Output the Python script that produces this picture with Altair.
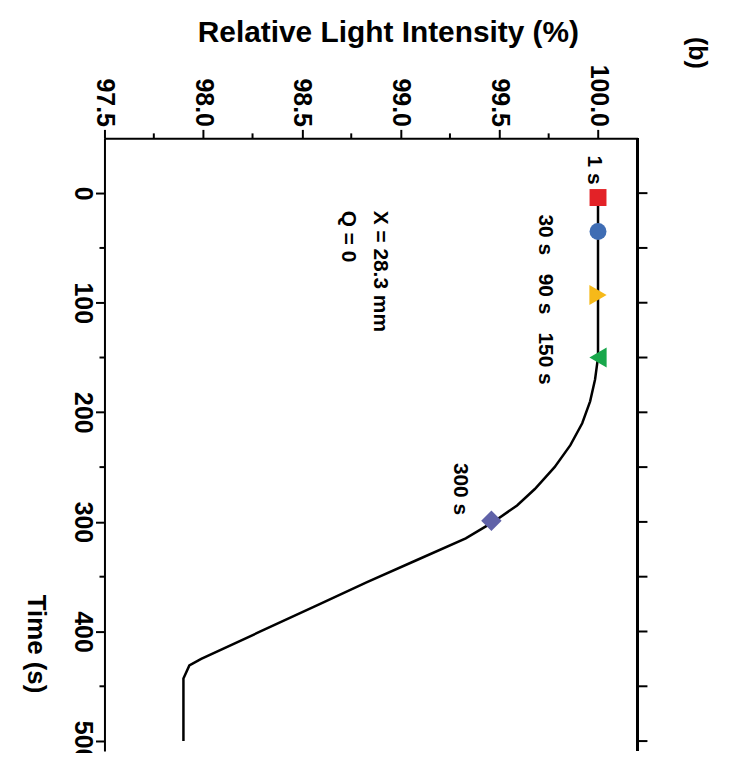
import altair as alt
import pandas as pd

# ---- data ----
time_s = [0, 150, 170, 190, 210, 230, 250, 270, 285, 300, 315, 335, 355, 375, 400, 425, 431, 443, 500]
intensity = [100.0, 100.0, 99.985, 99.96, 99.92, 99.86, 99.78, 99.68, 99.59, 99.47, 99.33,
             99.08, 98.83, 98.59, 98.29, 97.99, 97.93, 97.90, 97.90]

marker_time = [4, 35, 93, 150, 299]
marker_int = [100.0, 100.0, 100.0, 100.0, 99.46]
marker_shape = ["square", "circle", "triangle-right", "triangle-left", "diamond"]
marker_color = ["#e32227", "#3f6db4", "#f6b919", "#18a74b", "#6062a8"]

marker_label = ["1 s", "30 s", "90 s", "150 s", "300 s"]
label_time = [-21, 38, 92, 151, 270]
label_int = [99.98, 99.73, 99.73, 99.73, 99.30]

note_text = ["X = 28.3 mm", "Q = 0"]
note_int = [98.895, 98.734]
note_time = [16, 16]

panel_text = ["(b)"]
panel_int = [100.5]
panel_time = [-128]

x_ticks = [97.5, 98.0, 98.5, 99.0, 99.5, 100.0]
x_minor = [97.75, 98.25, 98.75, 99.25, 99.75]
y_ticks = [0, 100, 200, 300, 400, 500]
y_minor = [50, 150, 250, 350, 450]
right_ticks = [0, 50, 100, 150, 200, 250, 300, 350, 400, 450, 500]

# ---- styling ----
SHAPE_SIZE = {"square": 290, "circle": 290, "triangle-right": 400, "triangle-left": 400, "diamond": 420}
X_DOMAIN = [97.5, 100.2]
Y_DOMAIN = [-50, 509]
W, H = 536, 616
FONT = "Liberation Sans"

line_df = pd.DataFrame({"t": time_s, "v": intensity})
mk_df = pd.DataFrame({"t": marker_time, "v": marker_int, "shape": marker_shape, "color": marker_color})
mk_df["sz"] = mk_df["shape"].map(SHAPE_SIZE)
lab_df = pd.DataFrame({"t": label_time, "v": label_int, "txt": marker_label})
note_df = pd.DataFrame({"t": note_time, "v": note_int, "txt": note_text})
panel_df = pd.DataFrame({"t": panel_time, "v": panel_int, "txt": panel_text})
xminor_df = pd.DataFrame({"v": x_minor})
yminor_df = pd.DataFrame({"t": y_minor})
right_df = pd.DataFrame({"t": right_ticks})

xs = alt.Scale(domain=X_DOMAIN, nice=False, zero=False)
ys = alt.Scale(domain=Y_DOMAIN, nice=False, zero=False, reverse=True)

x_axis = alt.Axis(
    orient="top", values=x_ticks, format=".1f", labelAngle=90, labelAlign="right",
    labelBaseline="middle", labelFlush=False, labelOverlap=False, tickSize=9, labelPadding=3,
    grid=False, title="Relative Light Intensity (%)", titleFontSize=30, titleFontWeight="bold",
    titleFont=FONT, titleX=285, titleY=-97, titleAlign="center", titleBaseline="alphabetic",
)
y_axis = alt.Axis(
    orient="left", values=y_ticks, format="d", labelAngle=90, labelAlign="center",
    labelBaseline="top", labelFlush=False, labelOverlap=False, tickSize=9, labelPadding=1,
    grid=False, title="Time (s)", titleFontSize=26, titleFontWeight="bold", titleFont=FONT,
    titleAngle=90, titleX=-77, titleY=508, titleAlign="center", titleBaseline="alphabetic",
)

line = alt.Chart(line_df).mark_line(color="black", strokeWidth=2.5).encode(
    x=alt.X("v:Q", scale=xs, axis=x_axis),
    y=alt.Y("t:Q", scale=ys, axis=y_axis),
    order=alt.Order("t:Q"),
)

markers = alt.Chart(mk_df).mark_point(filled=True, opacity=1).encode(
    x=alt.X("v:Q", scale=xs),
    y=alt.Y("t:Q", scale=ys),
    shape=alt.Shape("shape:N", scale=None),
    color=alt.Color("color:N", scale=None),
    size=alt.Size("sz:Q", scale=None),
)

labels = alt.Chart(lab_df).mark_text(
    angle=90, align="center", baseline="middle", font=FONT, fontWeight="bold", fontSize=21, color="black"
).encode(x=alt.X("v:Q", scale=xs), y=alt.Y("t:Q", scale=ys), text="txt:N")

notes = alt.Chart(note_df).mark_text(
    angle=90, align="left", baseline="middle", font=FONT, fontWeight="bold", fontSize=21, color="black"
).encode(x=alt.X("v:Q", scale=xs), y=alt.Y("t:Q", scale=ys), text="txt:N")

panel = alt.Chart(panel_df).mark_text(
    angle=90, align="center", baseline="middle", font=FONT, fontWeight="bold", fontSize=25, color="black"
).encode(x=alt.X("v:Q", scale=xs), y=alt.Y("t:Q", scale=ys), text="txt:N")

x_minor_ticks = alt.Chart(xminor_df).mark_rule(color="black", strokeWidth=2).encode(
    x=alt.X("v:Q", scale=xs), y=alt.value(-5), y2=alt.value(0)
)
y_minor_ticks = alt.Chart(yminor_df).mark_rule(color="black", strokeWidth=2).encode(
    y=alt.Y("t:Q", scale=ys), x=alt.value(-5), x2=alt.value(0)
)
right_tick_marks = alt.Chart(right_df).mark_rule(color="black", strokeWidth=2).encode(
    y=alt.Y("t:Q", scale=ys), x=alt.value(W), x2=alt.value(W + 10)
)
right_frame = alt.Chart(right_df).mark_rule(color="black", strokeWidth=2).encode(
    x=alt.datum(X_DOMAIN[1], scale=xs), y=alt.datum(Y_DOMAIN[0], scale=ys), y2=alt.datum(Y_DOMAIN[1])
)

chart = alt.layer(
    line, markers, labels, notes, panel, x_minor_ticks, y_minor_ticks, right_tick_marks, right_frame
).properties(
    width=W, height=H,
    padding={"left": 97, "top": 129, "right": 90, "bottom": 0},
    autosize=alt.AutoSizeParams(type="none"),
    background="white",
).configure_view(strokeWidth=0).configure_axis(
    domainColor="black", domainWidth=2, tickColor="black", tickWidth=2,
    labelColor="black", labelFont=FONT, labelFontWeight="bold", labelFontSize=25,
    titleColor="black",
)

chart.save("out.html", embed_options={"renderer": "svg", "actions": False})
